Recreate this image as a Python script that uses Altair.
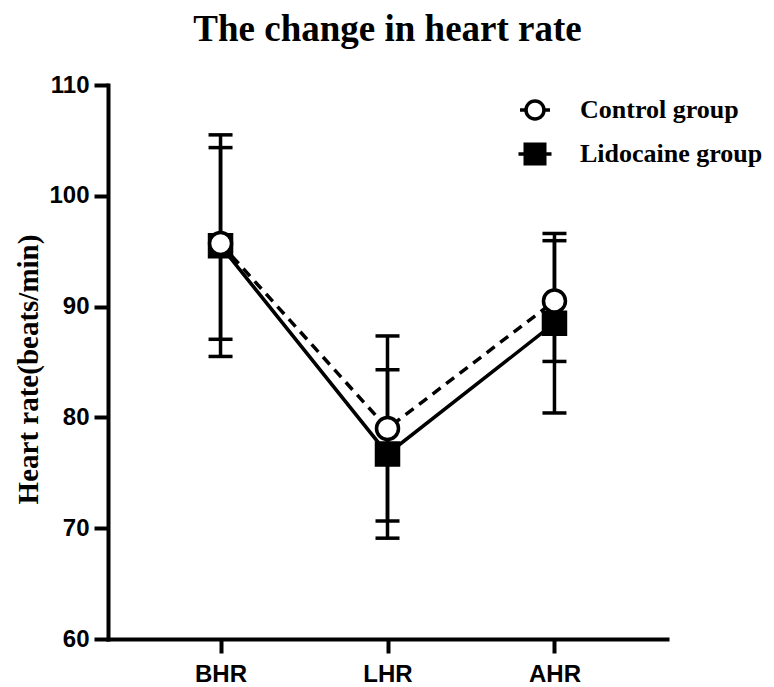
import altair as alt
import pandas as pd

categories = ["BHR", "LHR", "AHR"]
groups = ["Control group", "Lidocaine group"]
control_mean = [95.7, 79.0, 90.5]
control_sd = [8.65, 8.35, 5.45]
lidocaine_mean = [95.5, 76.7, 88.5]
lidocaine_sd = [10.0, 7.6, 8.1]
y_ticks = [60, 70, 80, 90, 100, 110]

rows = []
for g, means, sds in [(groups[1], lidocaine_mean, lidocaine_sd), (groups[0], control_mean, control_sd)]:
    for c, m, s in zip(categories, means, sds):
        rows.append({"cat": c, "group": g, "mean": m, "lo": m - s, "hi": m + s})
df = pd.DataFrame(rows)

SANS = "Liberation Sans"
SERIF = "Liberation Serif"

x_enc = alt.X(
    "cat:N", sort=categories,
    scale=alt.Scale(type="point", padding=0.674),
    axis=alt.Axis(title=None, labelAngle=0, labelFont=SANS, labelFontSize=24, labelFontWeight="bold",
                  labelColor="black", labelPadding=9, tickSize=14, tickWidth=4, tickColor="black",
                  domainWidth=4, domainColor="black", domainCap="square"),
)
y_scale = alt.Scale(domain=[60, 110], nice=False, zero=False)
y_enc = alt.Y(
    "mean:Q", scale=y_scale,
    axis=alt.Axis(values=y_ticks, title="Heart rate(beats/min)", titleFont=SERIF, titleFontSize=29,
                  titleFontWeight="bold", titleColor="black", titlePadding=5, titleY=284,
                  labelFont=SANS, labelFontSize=24, labelFontWeight="bold", labelColor="black",
                  labelPadding=5, tickSize=14, tickWidth=4, tickColor="black",
                  domainWidth=4, domainColor="black", domainCap="square", grid=False),
)

base = alt.Chart(df)
ctrl = base.transform_filter(alt.datum.group == groups[0])
lido = base.transform_filter(alt.datum.group == groups[1])

line_lido = lido.mark_line(color="black", strokeWidth=3.5).encode(x=x_enc, y=y_enc)
line_ctrl = ctrl.mark_line(color="black", strokeWidth=3.5, strokeDash=[10, 7]).encode(x=x_enc, y=y_enc)

rules = base.mark_rule(color="black", strokeWidth=3.5).encode(
    x=x_enc, y=alt.Y("lo:Q", scale=y_scale), y2="hi:Q"
)
cap_hi = base.mark_tick(color="black", size=24, thickness=3.5, orient="horizontal", opacity=1).encode(
    x=x_enc, y=alt.Y("hi:Q", scale=y_scale)
)
cap_lo = base.mark_tick(color="black", size=24, thickness=3.5, orient="horizontal", opacity=1).encode(
    x=x_enc, y=alt.Y("lo:Q", scale=y_scale)
)

circ_path = "M-1,0L-0.6,0M0.6,0L1,0M-0.6,0A0.6,0.6,0,1,1,0.6,0A0.6,0.6,0,1,1,-0.6,0Z"
sq_path = "M-1.1,0L-0.65,0M0.65,0L1.1,0M-0.65,-0.65L0.65,-0.65L0.65,0.65L-0.65,0.65Z"

leg = alt.Legend(title=None, orient="none", legendX=410, legendY=8,
                 labelFont=SERIF, labelFontSize=26, labelFontWeight="bold", labelLimit=300,
                 labelColor="black", symbolSize=900, symbolStrokeWidth=3.5,
                 symbolStrokeColor="black", labelOffset=28, rowPadding=11, padding=0)

legend_layer = base.mark_point(filled=False, size=0, strokeWidth=3.5, opacity=1).encode(
    x=x_enc, y=y_enc,
    shape=alt.Shape("group:N", scale=alt.Scale(domain=groups, range=[circ_path, sq_path]), legend=leg),
    fill=alt.Fill("group:N", scale=alt.Scale(domain=groups, range=["white", "black"]), legend=leg),
    stroke=alt.Stroke("group:N", scale=alt.Scale(domain=groups, range=["black", "black"]), legend=leg),
)

pts_lido = lido.mark_point(shape="square", filled=True, fill="black", size=484, stroke="black",
                           strokeWidth=3.5, opacity=1).encode(x=x_enc, y=y_enc)
pts_ctrl = ctrl.mark_point(shape="circle", filled=True, fill="white", size=484, stroke="black",
                           strokeWidth=3.5, opacity=1).encode(x=x_enc, y=y_enc)

chart = alt.layer(legend_layer, line_lido, line_ctrl, rules, cap_hi, cap_lo, pts_lido, pts_ctrl).properties(
    width=559, height=554,
    title=alt.TitleParams("The change in heart rate", font=SERIF, fontSize=37, fontWeight="bold",
                          color="black", anchor="middle", frame="group", offset=24),
    autosize=alt.AutoSizeParams(type="none"),
    padding={"left": 100, "top": 77, "right": 99, "bottom": 48},
).configure(background="white", view=alt.ViewConfig(strokeWidth=0))

chart.save("out.html", embed_options={"renderer": "svg", "actions": False})
